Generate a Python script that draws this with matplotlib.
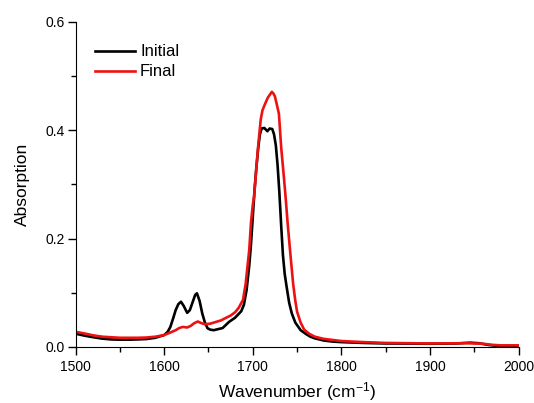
import matplotlib
matplotlib.use("Agg")
import matplotlib.pyplot as plt
from matplotlib.ticker import MultipleLocator

plt.rcParams['font.family'] = ['Liberation Sans', 'DejaVu Sans']
plt.rcParams['mathtext.default'] = 'regular'

wn_initial = [1500, 1510, 1520, 1530, 1540, 1550, 1560, 1570, 1580, 1590, 1600, 1604, 1607,
              1610, 1613, 1616, 1619, 1622, 1626, 1629, 1632, 1635, 1637, 1640, 1643, 1646,
              1649, 1652, 1656, 1661, 1666, 1673, 1680, 1687, 1690, 1693, 1696, 1698, 1700,
              1702, 1704, 1706, 1708, 1710, 1713, 1716.5, 1719, 1722, 1724, 1726, 1728, 1730,
              1732, 1734, 1736, 1738, 1741, 1744, 1748, 1754, 1760, 1765, 1770, 1780, 1790,
              1800, 1825, 1850, 1900, 1930, 1945, 1955, 1965, 1975, 2000]
abs_initial = [0.0246, 0.021, 0.018, 0.0155, 0.014, 0.0135, 0.0135, 0.014, 0.0147, 0.017,
               0.022, 0.028, 0.037, 0.052, 0.068, 0.079, 0.0835, 0.076, 0.063, 0.068, 0.082,
               0.096, 0.099, 0.085, 0.062, 0.045, 0.0345, 0.032, 0.031, 0.033, 0.035, 0.046,
               0.054, 0.066, 0.078, 0.105, 0.150, 0.190, 0.240, 0.290, 0.330, 0.365, 0.392,
               0.403, 0.404, 0.398, 0.403, 0.402, 0.392, 0.372, 0.335, 0.285, 0.225, 0.170,
               0.135, 0.113, 0.082, 0.062, 0.045, 0.031, 0.024, 0.019, 0.016, 0.012, 0.010,
               0.009, 0.0075, 0.0065, 0.006, 0.0065, 0.008, 0.007, 0.004, 0.002, 0.002]

wn_final = [1500, 1510, 1520, 1530, 1540, 1550, 1560, 1570, 1580, 1590, 1600, 1606, 1613,
            1617, 1621, 1626, 1630, 1634, 1638, 1642, 1646, 1652, 1658, 1664, 1670, 1675,
            1680, 1684, 1689, 1692, 1696, 1698, 1700, 1701.5, 1704, 1706, 1709, 1711, 1714,
            1717, 1721.5, 1723.5, 1725, 1727, 1729.5, 1732, 1735, 1737, 1739.5, 1742, 1745.5,
            1748, 1750, 1754, 1758, 1764, 1770, 1780, 1790, 1800, 1825, 1850, 1900, 1940,
            1960, 1970, 1980, 2000]
abs_final = [0.028, 0.025, 0.0215, 0.019, 0.018, 0.017, 0.017, 0.017, 0.0175, 0.019, 0.022,
             0.026, 0.031, 0.035, 0.037, 0.036, 0.039, 0.044, 0.047, 0.044, 0.042, 0.043,
             0.046, 0.049, 0.054, 0.058, 0.064, 0.072, 0.087, 0.117, 0.179, 0.230, 0.262,
             0.277, 0.330, 0.369, 0.420, 0.437, 0.449, 0.460, 0.4706, 0.467, 0.462, 0.448,
             0.430, 0.369, 0.315, 0.277, 0.225, 0.179, 0.117, 0.085, 0.065, 0.045, 0.032,
             0.024, 0.019, 0.015, 0.013, 0.011, 0.009, 0.0075, 0.0065, 0.007, 0.006, 0.004,
             0.003, 0.003]

xticks = [1500, 1600, 1700, 1800, 1900, 2000]
yticks = [0.0, 0.2, 0.4, 0.6]

W, H = 534, 403
fig = plt.figure(figsize=(W / 100, H / 100), dpi=100)
ax_l, ax_r, ax_t, ax_b = 75.5, 518.7, 21.7, 347
ax = fig.add_axes([ax_l / W, 1 - ax_b / H, (ax_r - ax_l) / W, (ax_b - ax_t) / H])

ax.plot(wn_initial, abs_initial, color='black', lw=1.9, label='Initial')
ax.plot(wn_final, abs_final, color='#ee1111', lw=1.9, label='Final')

ax.set_xlim(1500, 2000)
ax.set_ylim(0.0, 0.6)
ax.set_xticks(xticks)
ax.set_yticks(yticks)
ax.set_yticklabels([f"{v:.1f}" for v in yticks])
ax.xaxis.set_minor_locator(MultipleLocator(50))
ax.yaxis.set_minor_locator(MultipleLocator(0.1))
for s in ['top', 'right']:
    ax.spines[s].set_visible(False)
ax.tick_params(which='major', direction='out', length=5.5, width=1, labelsize=10, colors='black')
ax.tick_params(which='minor', direction='out', length=3.5, width=1)
ax.tick_params(axis='x', which='major', pad=4)
ax.tick_params(axis='y', which='major', pad=2)

ax.set_xlabel('Wavenumber (cm$^{-1}$)', fontsize=12.5, labelpad=4)
ax.set_ylabel('Absorption', fontsize=12.5, labelpad=11)

ax.legend(loc='upper left', bbox_to_anchor=(0.044, 0.93), frameon=False, fontsize=12,
          handlelength=2.4, handletextpad=0.3, labelspacing=0.3, borderpad=0,
          borderaxespad=0)

fig.savefig('out.png', dpi=100)
